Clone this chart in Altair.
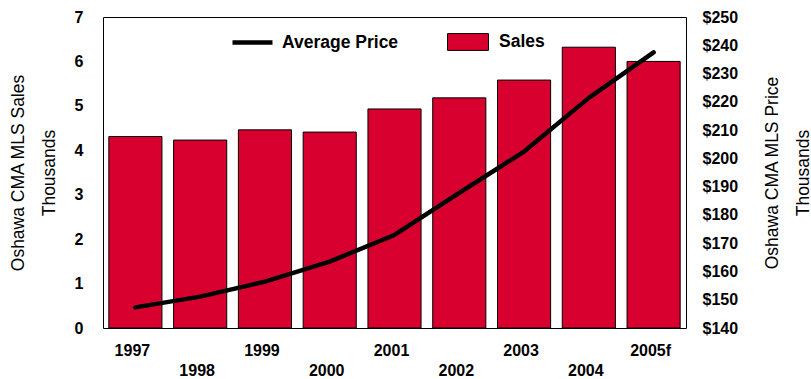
import altair as alt
import pandas as pd

years = ['1997', '1998', '1999', '2000', '2001', '2002', '2003', '2004', '2005f']
sales = [4.31, 4.23, 4.46, 4.41, 4.93, 5.18, 5.58, 6.32, 6.00]
price = [147.3, 151.1, 156.4, 163.5, 172.9, 187.8, 202.4, 221.4, 237.5]
left_ticks = [0, 1, 2, 3, 4, 5, 6, 7]
right_ticks = [140, 150, 160, 170, 180, 190, 200, 210, 220, 230, 240, 250]

df = pd.DataFrame({'year': years, 'sales': sales, 'price': price})

FONT = 'Liberation Sans'
RED = '#D8002F'

x_enc = alt.X(
    'year:N', sort=years,
    scale=alt.Scale(paddingInner=0.18, paddingOuter=0.09),
    axis=alt.Axis(
        title=None, ticks=False, tickSize=0, domain=False,
        labelAngle=0, labelFont=FONT, labelFontSize=16, labelFontWeight='bold',
        labelColor='black', labelPadding=14, labelLineHeight=20,
        labelOverlap=False, labelOffset=-3,
        labelExpr="indexof(['1998','2000','2002','2004'], datum.value) >= 0 ? ['', datum.label] : datum.label",
    ),
)

bars = alt.Chart(df).transform_calculate(s="'Sales'").mark_bar(
    stroke='black', strokeWidth=1
).encode(
    x=x_enc,
    y=alt.Y('sales:Q', scale=alt.Scale(domain=[0, 7]),
            axis=alt.Axis(
                title=['Oshawa CMA MLS Sales', 'Thousands'], values=left_ticks,
                ticks=False, tickSize=0, domain=False, grid=False,
                labelFont=FONT, labelFontSize=16, labelFontWeight='bold',
                labelColor='black', labelPadding=20,
                titleFont=FONT, titleFontSize=17.5, titleFontWeight='normal',
                titleColor='black', titleAngle=270, titleLineHeight=31,
                titleBaseline='middle', titleAlign='center',
                titleX=-85, titleY=155.5,
            )),
    fill=alt.Fill('s:N', scale=alt.Scale(domain=['Sales'], range=[RED]),
                  legend=alt.Legend(
                      title=None, orient='none', legendX=344, legendY=4,
                      direction='horizontal', padding=0,
                      symbolType='M-1,-0.41H1V0.41H-1Z', symbolSize=1681,
                      symbolStrokeColor='black', symbolStrokeWidth=1,
                      labelFont=FONT, labelFontSize=17.5, labelFontWeight='bold',
                      labelColor='black', labelOffset=10,
                  )),
)

line = alt.Chart(df).transform_calculate(p="'Average Price'").mark_line(
    strokeWidth=4.5, strokeCap='round', strokeJoin='round'
).encode(
    x=x_enc,
    y=alt.Y('price:Q', scale=alt.Scale(domain=[140, 250]),
            axis=alt.Axis(
                orient='right',
                title=['Oshawa CMA MLS Price', 'Thousands'], values=right_ticks,
                ticks=False, tickSize=0, domain=False, grid=False,
                labelExpr="'$' + datum.value",
                labelFont=FONT, labelFontSize=16, labelFontWeight='bold',
                labelColor='black', labelPadding=16,
                titleFont=FONT, titleFontSize=17.5, titleFontWeight='normal',
                titleColor='black', titleAngle=270, titleLineHeight=31,
                titleBaseline='middle', titleAlign='center',
                titleX=86, titleY=155.5,
            )),
    stroke=alt.Stroke('p:N', scale=alt.Scale(domain=['Average Price'], range=['black']),
                      legend=alt.Legend(
                          title=None, orient='none', legendX=127, legendY=3,
                          direction='horizontal', padding=0,
                          symbolType='stroke', symbolSize=1600, symbolStrokeWidth=4.5,
                          labelFont=FONT, labelFontSize=17.5, labelFontWeight='bold',
                          labelColor='black', labelOffset=7,
                      )),
)

chart = alt.layer(bars, line).resolve_scale(y='independent').properties(
    width=583, height=311,
    autosize=alt.AutoSizeParams(type='none'),
    padding={'left': 103, 'top': 17, 'right': 125, 'bottom': 51},
    background='white',
).configure_view(stroke='black', strokeWidth=1)

chart.save('out.html', embed_options={'renderer': 'svg', 'actions': False})
